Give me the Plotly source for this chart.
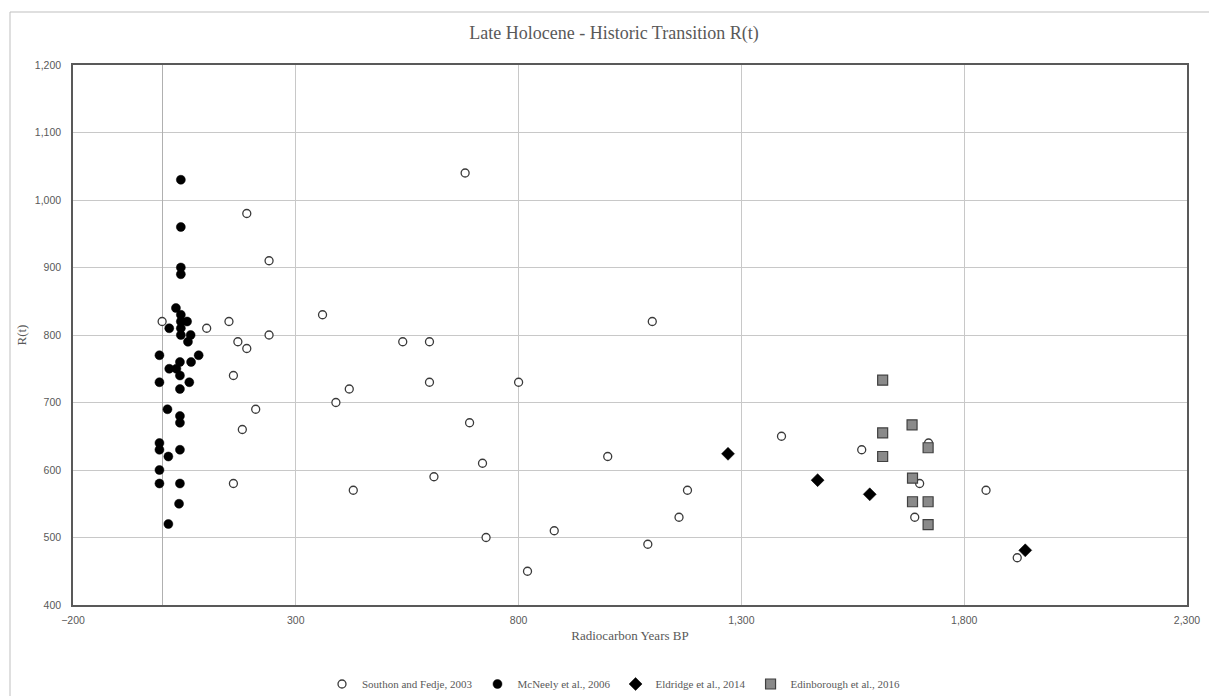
import plotly.graph_objects as go

# ---- data ----
southon_x = [0, 100, 150, 190, 240, 360, 170, 190, 240, 160, 210, 180, 160,
             680, 1100, 540, 600, 600, 800, 420, 390, 690, 719, 1000, 610, 429,
             1179, 1160, 880, 727, 1090, 820,
             1390, 1570, 1700, 1689, 1849, 1919, 1720]
southon_y = [820, 810, 820, 980, 910, 830, 790, 780, 800, 740, 690, 660, 580,
             1040, 820, 790, 790, 730, 730, 720, 700, 670, 610, 620, 590, 570,
             570, 530, 510, 500, 490, 450,
             650, 630, 580, 530, 570, 470, 640]

mcneely_x = [42, 42, 42, 42, 31, 42, 56, 42, 16, 42, 64, 42, 58, -6, 82, 40, 65,
             16, 32, 40, -6, 61, 40, 12, 40, 40, -6, -6, 40, 14, -6, -6, 40, 38, 14]
mcneely_y = [1030, 960, 900, 890, 840, 830, 820, 820, 810, 810, 800, 800, 790, 770,
             770, 760, 760, 750, 750, 740, 730, 730, 720, 690, 680, 670, 640, 630,
             630, 620, 600, 580, 580, 550, 520]

eldridge_x = [1270, 1471, 1588, 1937]
eldridge_y = [624, 585, 564, 481]

edin_x = [1617, 1683, 1617, 1719, 1617, 1684, 1684, 1719, 1719]
edin_y = [733, 667, 655, 633, 620, 588, 553, 553, 519]

series_names = ["Southon and Fedje, 2003", "McNeely et al., 2006",
                "Eldridge et al., 2014", "Edinborough et al., 2016"]

x_ticks = [-200, 300, 800, 1300, 1800, 2300]
y_ticks = [400, 500, 600, 700, 800, 900, 1000, 1100, 1200]

TXT = "#595959"
SERIF = "Liberation Serif, Times New Roman, serif"
SANS = "Liberation Sans, Arial, sans-serif"

W, H = 1209, 696
ML, MT, MR, MB = 73, 65, 22, 91
PW, PH = W - ML - MR, H - MT - MB

fig = go.Figure()
fig.add_trace(go.Scatter(
    x=southon_x, y=southon_y, mode="markers", name=series_names[0],
    marker=dict(symbol="circle", size=8, color="white",
                line=dict(color="#3a3a3a", width=1.3))))
fig.add_trace(go.Scatter(
    x=mcneely_x, y=mcneely_y, mode="markers", name=series_names[1],
    marker=dict(symbol="circle", size=9, color="black",
                line=dict(color="black", width=0.5))))
fig.add_trace(go.Scatter(
    x=eldridge_x, y=eldridge_y, mode="markers", name=series_names[2],
    marker=dict(symbol="diamond", size=10, color="black",
                line=dict(color="black", width=0.5))))
fig.add_trace(go.Scatter(
    x=edin_x, y=edin_y, mode="markers", name=series_names[3],
    marker=dict(symbol="square", size=10, color="#8a8a8a",
                line=dict(color="#404040", width=1.2))))

fig.update_layout(
    width=W, height=H,
    margin=dict(l=ML, r=MR, t=MT, b=MB, pad=0, autoexpand=False),
    paper_bgcolor="white", plot_bgcolor="white",
    title=dict(text="Late Holocene - Historic Transition R(t)",
               x=614 / W, xref="container", xanchor="center",
               y=1 - 33 / H, yref="container", yanchor="middle",
               font=dict(family=SERIF, size=18, color=TXT)),
    showlegend=True,
    legend=dict(orientation="h", x=(614 - ML) / PW, xanchor="center",
                y=-79 / PH, yanchor="middle", yref="paper",
                font=dict(family=SERIF, size=11, color=TXT),
                itemwidth=30, tracegroupgap=0,
                bgcolor="rgba(0,0,0,0)"),
    xaxis=dict(range=[-200, 2300], tickmode="array", tickvals=x_ticks,
               tickformat=",", showgrid=True, gridcolor="#c8c8c8", gridwidth=1,
               zeroline=True, zerolinecolor="#b0b0b0", zerolinewidth=1,
               showline=True, mirror=True, linecolor="#595959", linewidth=1.5,
               ticks="", ticklabelstandoff=5,
               tickfont=dict(family=SANS, size=10.5, color=TXT),
               title=dict(text="Radiocarbon Years BP", standoff=6,
                          font=dict(family=SERIF, size=13, color=TXT))),
    yaxis=dict(range=[400, 1200], tickmode="array", tickvals=y_ticks,
               tickformat=",", showgrid=True, gridcolor="#c8c8c8", gridwidth=1,
               zeroline=False,
               showline=True, mirror=True, linecolor="#595959", linewidth=1.5,
               ticks="", ticklabelstandoff=8,
               tickfont=dict(family=SANS, size=10.5, color=TXT),
               title=dict(text="R(t)", standoff=5,
                          font=dict(family=SERIF, size=13, color=TXT))),
)

# outer chart border (left and top edges visible in the reference)
bx = (10 - ML) / PW
by = (PH + MT - 12) / PH
fig.add_shape(type="line", xref="paper", yref="paper",
              x0=bx, x1=bx, y0=by, y1=-(MB + 10) / PH,
              line=dict(color="#bfbfbf", width=1))
fig.add_shape(type="line", xref="paper", yref="paper",
              x0=bx, x1=(W + 10 - ML) / PW, y0=by, y1=by,
              line=dict(color="#bfbfbf", width=1))

# remove the default page margin so the figure fills the 1209x696 window exactly
page_fix = ("document.documentElement.style.margin='0';"
            "document.documentElement.style.overflow='hidden';"
            "document.body.style.margin='0';"
            "document.body.style.overflow='hidden';")

fig.write_html("out.html", post_script=page_fix,
               config={"displayModeBar": False})
